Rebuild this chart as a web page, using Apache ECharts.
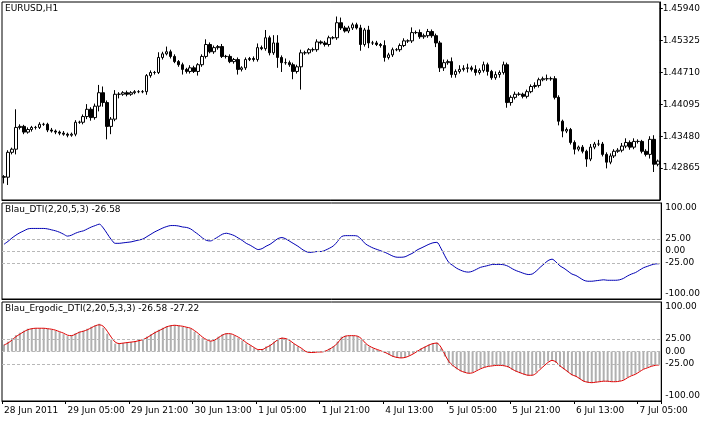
<!DOCTYPE html>
<html><head><meta charset="utf-8">
<script src="https://cdn.jsdelivr.net/npm/echarts@6/dist/echarts.min.js"></script>
<style>html,body{margin:0;padding:0;background:#fff}#c{width:703px;height:423px}</style>
</head><body><div id="c"></div>
<script>
const dateLabels = ["28 Jun 2011","29 Jun 05:00","29 Jun 21:00","30 Jun 13:00","1 Jul 05:00","1 Jul 21:00","4 Jul 13:00","5 Jul 05:00","5 Jul 21:00","6 Jul 13:00","7 Jul 05:00"];
const priceTicks = [1.42865,1.43480,1.44095,1.44710,1.45325,1.45940];
const closes = [
1.4269,1.4317,1.4323,1.4365,1.4367,1.4356,1.4361,1.4365,1.4365,1.4371,
1.4371,1.4360,1.4358,1.4356,1.4354,1.4352,1.4350,1.4352,1.4375,1.4375,
1.4386,1.4400,1.4384,1.4406,1.4432,1.4413,1.4367,1.4381,1.4429,1.4429,
1.4432,1.4429,1.4432,1.4434,1.4434,1.4434,1.4465,1.4471,1.4471,1.4500,
1.4507,1.4511,1.4502,1.4492,1.4486,1.4477,1.4473,1.4480,1.4473,1.4486,
1.4502,1.4525,1.4511,1.4519,1.4521,1.4502,1.4502,1.4492,1.4496,1.4477,
1.4480,1.4496,1.4498,1.4496,1.4519,1.4517,1.4538,1.4509,1.4528,1.4500,
1.4490,1.4490,1.4486,1.4473,1.4482,1.4509,1.4509,1.4515,1.4515,1.4530,
1.4528,1.4525,1.4538,1.4538,1.4567,1.4557,1.4551,1.4557,1.4563,1.4557,
1.4525,1.4553,1.4528,1.4528,1.4525,1.4523,1.4500,1.4505,1.4515,1.4515,
1.4523,1.4532,1.4532,1.4548,1.4548,1.4540,1.4542,1.4550,1.4542,1.4528,
1.4480,1.4490,1.4492,1.4467,1.4473,1.4477,1.4479,1.4480,1.4477,1.4471,
1.4475,1.4486,1.4473,1.4461,1.4467,1.4471,1.4486,1.4413,1.4423,1.4429,
1.4429,1.4425,1.4434,1.4444,1.4446,1.4457,1.4459,1.4459,1.4459,1.4423,
1.4377,1.4358,1.4361,1.4336,1.4323,1.4327,1.4319,1.4304,1.4327,1.4333,
1.4333,1.4313,1.4298,1.4310,1.4319,1.4321,1.4329,1.4336,1.4327,1.4338,
1.4338,1.4319,1.4313,1.4342,1.4294,1.4300];
const wickUp = [
3,4,3,35,4,3,4,3,3,4, 3,3,4,3,3,4,3,3,4,3, 4,10,4,5,15,12,4,4,8,4, 3,4,3,3,3,3,3,4,3,10,
4,10,4,4,3,4,3,5,4,3, 4,10,4,4,3,5,3,4,3,4, 3,4,3,4,8,4,15,4,15,15, 4,8,4,4,4,6,4,3,4,5,
3,4,4,3,12,10,4,4,4,4, 6,4,8,4,4,3,10,4,4,3, 4,5,3,10,4,6,4,5,4,4, 4,6,4,8,4,8,6,8,4,8,
4,6,4,3,6,4,6,4,4,5, 4,3,4,4,6,4,4,8,4,5, 4,3,4,3,4,3,4,3,6,4, 8,4,4,5,4,4,6,8,4,6, 4,3,4,6,8,3];
const wickDn = [
12,15,4,10,4,4,3,4,4,3, 3,4,3,4,4,3,4,3,4,3, 4,5,6,4,10,8,25,15,4,8, 3,4,3,3,3,3,6,4,4,3,
4,3,4,3,4,10,4,4,3,8, 4,4,3,4,4,3,4,3,4,10, 4,4,3,4,4,3,4,5,4,20, 18,4,4,15,4,44,4,3,4,4,
3,4,4,3,4,4,3,4,4,3, 12,4,10,4,3,4,8,4,4,3, 4,3,4,4,3,4,4,4,4,8, 8,6,4,6,6,4,4,8,4,6,
4,4,8,4,4,6,4,10,6,4, 3,4,4,3,4,4,3,4,4,4, 8,12,4,4,10,4,4,15,4,4, 4,4,12,4,4,3,4,4,5,4, 4,4,4,8,15,4];
const dti = [
14,20,27,33,38,42,46,47,47,47, 47,46,44,42,39,35,31,33,37,40, 42,46,50,53,56,48,36,24,16,16,
17,18,19,21,23,25,30,35,40,44, 48,51,53,53,52,50,49,46,40,34, 27,22,21,25,30,35,37,35,32,27,
22,16,12,7,3,5,10,14,20,26, 28,25,20,15,10,4,-1,-3,-2,-1, -1,2,6,11,20,30,32,32,32,31,
24,15,10,6,3,0,-3,-7,-11,-13, -13,-12,-8,-4,2,6,10,14,17,18, 6,-10,-24,-30,-36,-40,-43,-44,-42,-38,
-34,-32,-30,-28,-28,-28,-29,-32,-37,-41, -44,-47,-49,-48,-42,-34,-27,-20,-17,-23,
-31,-36,-42,-48,-51,-56,-61,-63,-63,-62, -61,-60,-61,-61,-61,-60,-57,-52,-48,-45, -40,-35,-32,-29,-27,-26.58];
const signal = [
13,17,23,30,35,40,44,46,47,47, 47,46,45,43,40,37,33,32,35,39, 41,44,48,52,54,51,41,29,19,16,
17,18,19,20,22,24,28,33,38,42, 46,50,52,53,52,51,49,47,42,36, 29,24,21,23,28,33,36,36,33,29,
24,18,13,8,4,4,8,12,18,24, 27,26,22,16,11,6,0,-2,-2,-1, -1,1,5,10,17,27,31,32,32,31,
26,17,11,7,4,1,-2,-6,-10,-12, -13,-12,-9,-5,0,5,9,13,16,17, 9,-6,-20,-28,-34,-39,-42,-44,-43,-39,
-35,-32,-30,-29,-28,-28,-29,-31,-36,-40, -43,-46,-48,-48,-44,-36,-29,-22,-18,-21,
-29,-35,-41,-47,-50,-55,-60,-62,-63,-62, -61,-60,-60,-61,-61,-60,-58,-53,-49,-46, -41,-36,-33,-30,-28,-27.22];

const N = closes.length;
const cats = [];
for (let i = 0; i < N; i++) cats.push(i % 16 === 0 ? (dateLabels[i/16] || '') : '');
const ohlc = closes.map((c, i) => {
  const o = i === 0 ? 1.4270 : closes[i-1];
  const hi = Math.max(o, c) + wickUp[i] * 0.0001;
  const lo = Math.min(o, c) - wickDn[i] * 0.0001;
  return [o, c, lo, hi];
});
const FONT = 'DejaVu Sans';
const txt = {fontFamily: FONT, fontSize: 9, color: '#000'};
const indLabels = [100, 25, 0, -25, -100];
function indY(idx) {
  return {type:'value', gridIndex: idx, position:'right', min:-100, max:100, interval:25,
    axisLine:{show:true,lineStyle:{color:'#000'}}, splitLine:{show:false},
    axisTick:{show:false},
    axisLabel:{...txt, margin:4,
      rich:{t:{...txt, padding:[10,0,0,0]}, b:{...txt, padding:[0,0,10,0]}, n:{...txt}},
      formatter: v => v === 100 ? '{t|100.00}' : v === -100 ? '{b|-100.00}' : indLabels.includes(v) ? '{n|' + v.toFixed(2) + '}' : ''}};
}
function xA(idx, showLab) {
  return {type:'category', gridIndex: idx, data: cats, boundaryGap: true,
    axisLine:{show:true, onZero:false, lineStyle:{color:'#000'}},
    axisTick:{show: showLab, length:3, interval: i => i % 16 === 0, lineStyle:{color:'#000'}},
    axisLabel:{show: showLab, ...txt, align:'left', margin:5, interval: i => i % 16 === 0}, splitLine:{show:false}};
}
const guide = {silent:true, symbol:'none', label:{show:false},
  lineStyle:{color:'#b8b8b8', type:[3,2], width:1},
  data:[{yAxis:25},{yAxis:0},{yAxis:-25}]};
const chart = echarts.init(document.getElementById('c'));
chart.setOption({
  animation:false,
  backgroundColor:'#fff',
  grid:[
    {left:2, right:38, top:2, height:198, show:true, borderColor:'#000', borderWidth:1},
    {left:2, right:38, top:203, height:96, show:true, borderColor:'#000', borderWidth:1},
    {left:2, right:38, top:302, height:99, show:true, borderColor:'#000', borderWidth:1}
  ],
  xAxis:[xA(0,false), xA(1,false), xA(2,true)],
  yAxis:[
    {type:'value', gridIndex:0, position:'right', scale:true, min:1.4225, max:1.4607, interval:0.00615,
     axisLine:{show:true,lineStyle:{color:'#000'}}, splitLine:{show:false},
     axisTick:{show:true,length:3,lineStyle:{color:'#000'}},
     axisLabel:{...txt, margin:3, showMinLabel:false, showMaxLabel:false,
       formatter: v => priceTicks.some(t => Math.abs(t - v) < 1e-6) ? v.toFixed(5) : ''}},
    indY(1), indY(2)
  ],
  graphic:[
    {type:'text', left:5, top:4, style:{text:'EURUSD,H1', font:'9px "DejaVu Sans"', fill:'#000'}},
    {type:'text', left:5, top:205, style:{text:'Blau_DTI(2,20,5,3) -26.58', font:'9px "DejaVu Sans"', fill:'#000'}},
    {type:'text', left:5, top:304, style:{text:'Blau_Ergodic_DTI(2,20,5,3,3) -26.58 -27.22', font:'9px "DejaVu Sans"', fill:'#000'}}
  ],
  series:[
    {type:'candlestick', xAxisIndex:0, yAxisIndex:0, data:ohlc, barWidth:3,
     itemStyle:{color:'#fff', color0:'#000', borderColor:'#000', borderColor0:'#000', borderWidth:1}},
    {type:'line', xAxisIndex:1, yAxisIndex:1, data:dti, symbol:'none', smooth:0.3,
     lineStyle:{color:'#0000b4', width:1}, markLine:guide},
    {type:'bar', xAxisIndex:2, yAxisIndex:2, data:dti, barWidth:2, itemStyle:{color:'#b0b0b0'}},
    {type:'line', xAxisIndex:2, yAxisIndex:2, data:signal, symbol:'none', smooth:0.3,
     lineStyle:{color:'#e00000', width:1}, markLine:guide}
  ]
});
</script></body></html>
